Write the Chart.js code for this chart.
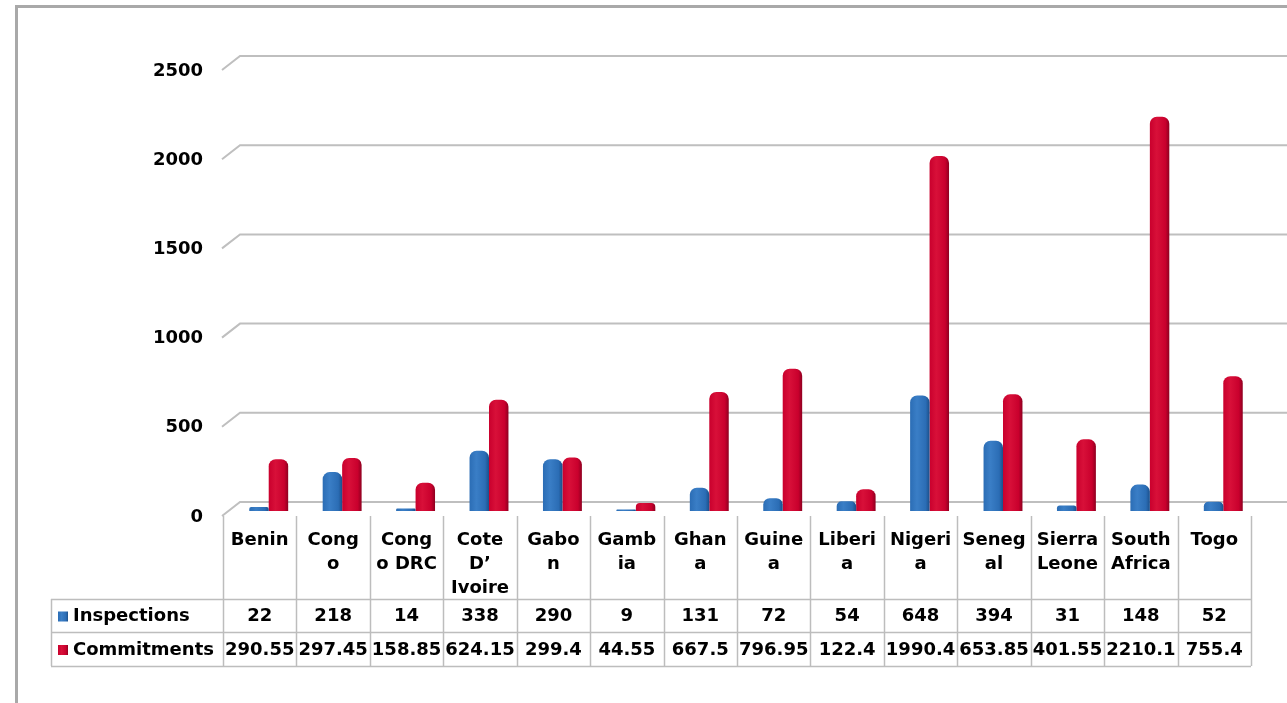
<!DOCTYPE html>
<html>
<head>
<meta charset="utf-8">
<script src="https://cdn.jsdelivr.net/npm/chart.js@4/dist/chart.umd.min.js"></script>
<style>
  html, body { margin: 0; padding: 0; background: #fff; }
  #wrap { width: 1287px; height: 703px; position: relative; }
</style>
</head>
<body>
<div id="wrap"><canvas id="chart" width="1287" height="703"></canvas></div>
<script>
// categories, wrapped the way the table header shows them
const countries = [
  "Benin", ["Cong", "o"], ["Cong", "o DRC"], ["Cote", "D\u2019", "Ivoire"], ["Gabo", "n"],
  ["Gamb", "ia"], ["Ghan", "a"], ["Guine", "a"], ["Liberi", "a"], ["Nigeri", "a"],
  ["Seneg", "al"], ["Sierra", "Leone"], ["South", "Africa"], "Togo"
];
const inspections = [22, 218, 14, 338, 290, 9, 131, 72, 54, 648, 394, 31, 148, 52];
const commitments = [290.55, 297.45, 158.85, 624.15, 299.4, 44.55, 667.5, 796.95, 122.4, 1990.4, 653.85, 401.55, 2210.1, 755.4];
const yTicks = [0, 500, 1000, 1500, 2000, 2500];

const FONT = 'bold 18px "DejaVu Sans", Verdana, sans-serif';
const DEPTH_X = 9;   // bars sit half way into the 3d floor
const GRID = '#bfbfbf';

// cylinder-ish shading for the bars
function shade(ctx, x0, x1, dark, mid, light) {
  const g = ctx.createLinearGradient(x0, 0, x1, 0);
  g.addColorStop(0, mid);
  g.addColorStop(0.35, light);
  g.addColorStop(0.8, mid);
  g.addColorStop(1, dark);
  return g;
}
const palette = [
  { dark: '#1b4f8a', mid: '#2b6db5', light: '#3a7ec6' },
  { dark: '#8e0020', mid: '#c9002d', light: '#d81039' }
];

const framePlugin = {
  id: 'frame3d',
  beforeDraw(chart) {
    const ctx = chart.ctx;
    ctx.save();
    ctx.strokeStyle = '#a9a9a9';
    ctx.lineWidth = 3;
    ctx.beginPath();
    ctx.moveTo(16.5, 703);
    ctx.lineTo(16.5, 6.5);
    ctx.lineTo(1287, 6.5);
    ctx.stroke();
    ctx.restore();
  },
  beforeDatasetsDraw(chart) {
    const ctx = chart.ctx;
    const y = chart.scales.y;
    const area = chart.chartArea;
    ctx.save();
    // back wall gridlines with a short diagonal for the floor depth
    ctx.strokeStyle = GRID;
    ctx.lineWidth = 2;
    const fx = area.left - DEPTH_X - 1;
    yTicks.forEach(v => {
      const yb = y.getPixelForValue(v);
      ctx.beginPath();
      ctx.moveTo(fx, yb + 5);
      ctx.lineTo(fx + 18, yb - 9);
      ctx.lineTo(1287, yb - 9);
      ctx.stroke();
    });
    ctx.fillStyle = '#000';
    ctx.font = FONT;
    ctx.textAlign = 'right';
    ctx.textBaseline = 'middle';
    yTicks.forEach(v => {
      ctx.fillText(String(v), 203, y.getPixelForValue(v) + 6);
    });
    ctx.restore();

    // gradients on the bars (options are shared, so give each bar its own copy)
    chart.data.datasets.forEach((ds, di) => {
      const meta = chart.getDatasetMeta(di);
      const p = palette[di];
      meta.data.forEach(bar => {
        const x0 = bar.x - bar.width / 2;
        bar.options = Object.assign({}, bar.options, {
          backgroundColor: shade(ctx, x0, x0 + bar.width, p.dark, p.mid, p.light)
        });
      });
    });
  },
  afterDraw(chart) {
    const ctx = chart.ctx;
    const x = chart.scales.x;
    const n = countries.length;
    const colW = (x.right - x.left) / n;
    const tLeft = x.left - DEPTH_X;
    const tRight = tLeft + colW * n;
    const legendLeft = 51;
    const headTop = 516, row1 = 599, row2 = 632, row3 = 666;

    ctx.save();
    ctx.strokeStyle = '#bdbdbd';
    ctx.lineWidth = 1.5;
    // header cell separators
    for (let i = 0; i <= n; i++) {
      const bx = Math.round(tLeft + colW * i) + 0.5;
      ctx.beginPath();
      ctx.moveTo(bx, headTop);
      ctx.lineTo(bx, row3);
      ctx.stroke();
    }
    [row1, row2, row3].forEach(ry => {
      ctx.beginPath();
      ctx.moveTo(legendLeft, ry + 0.5);
      ctx.lineTo(tRight, ry + 0.5);
      ctx.stroke();
    });
    ctx.beginPath();
    ctx.moveTo(legendLeft + 0.5, row1);
    ctx.lineTo(legendLeft + 0.5, row3);
    ctx.stroke();

    ctx.fillStyle = '#000';
    ctx.font = FONT;
    ctx.textAlign = 'center';
    ctx.textBaseline = 'middle';
    countries.forEach((c, i) => {
      const cx = x.getPixelForValue(i) - DEPTH_X;
      const lines = Array.isArray(c) ? c : [c];
      lines.forEach((ln, k) => ctx.fillText(ln, cx, 540 + k * 24));
      ctx.fillText(String(inspections[i]), cx, (row1 + row2) / 2 + 1);
      ctx.fillText(String(commitments[i]), cx, (row2 + row3) / 2 + 1);
    });

    // legend keys in the first column
    const series = chart.data.datasets;
    [(row1 + row2) / 2, (row2 + row3) / 2].forEach((cy, di) => {
      const p = palette[di];
      ctx.fillStyle = shade(ctx, 58, 68, p.dark, p.mid, p.light);
      ctx.fillRect(58, cy - 4, 10, 10);
      ctx.fillStyle = '#000';
      ctx.textAlign = 'left';
      ctx.fillText(series[di].label, 73, cy + 1);
    });
    ctx.restore();
  }
};

new Chart(document.getElementById('chart'), {
  type: 'bar',
  data: {
    labels: countries,
    datasets: [
      {
        label: 'Inspections',
        data: inspections,
        backgroundColor: '#2b6db5',
        borderRadius: { topLeft: 7, topRight: 7 },
        borderSkipped: 'start'
      },
      {
        label: 'Commitments',
        data: commitments,
        backgroundColor: '#c9002d',
        borderRadius: { topLeft: 7, topRight: 7 },
        borderSkipped: 'start'
      }
    ]
  },
  options: {
    responsive: false,
    animation: false,
    categoryPercentage: 0.53,
    barPercentage: 1.0,
    layout: { padding: { left: 232, right: 27, top: 65, bottom: 192 } },
    scales: {
      x: { display: false },
      y: { display: false, min: 0, max: 2500 }
    },
    plugins: {
      legend: { display: false },
      tooltip: { enabled: false }
    }
  },
  plugins: [framePlugin]
});
</script>
</body>
</html>
